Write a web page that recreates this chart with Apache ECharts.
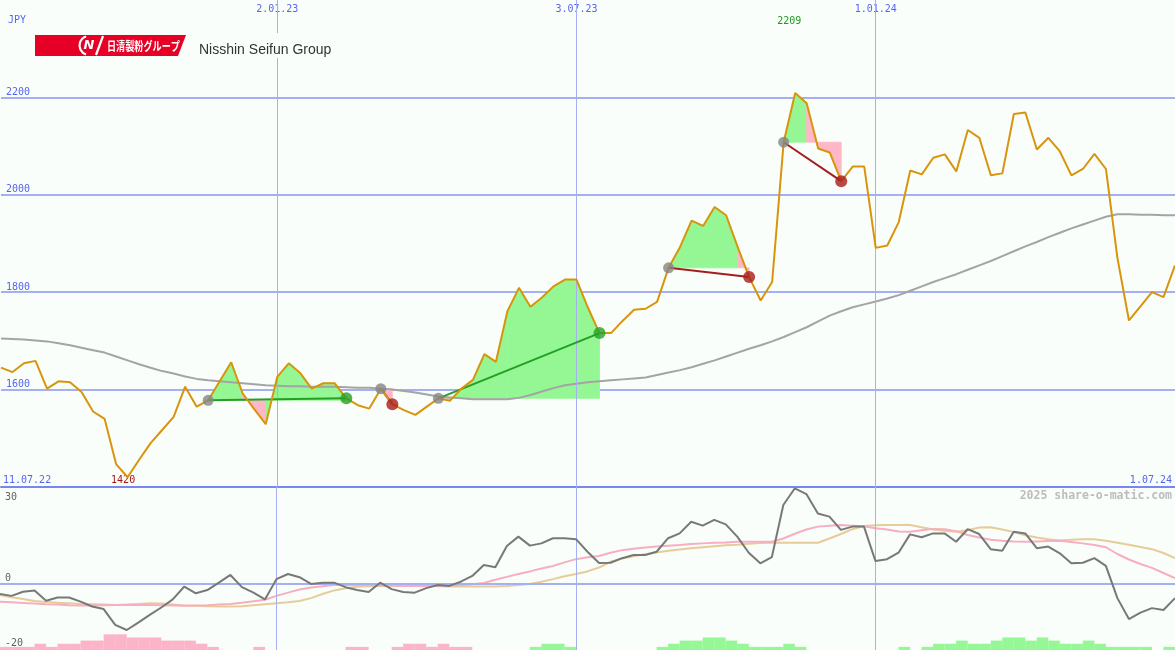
<!DOCTYPE html>
<html><head><meta charset="utf-8">
<script src="https://cdn.jsdelivr.net/npm/echarts@6/dist/echarts.min.js"></script>
<style>html,body{margin:0;padding:0;background:#fafefa}#c{width:1175px;height:650px}</style>
</head><body><div id="c"></div>
<script>
// ---- data (weekly, index 0 .. 102) ----
const price = [1645,1636,1654,1659,1602,1617,1615,1595,1555,1540,
  1447,1420,1456,1490,1517,1544,1606,1565,1578,1617,
  1656,1592,1560,1529,1626,1654,1634,1602,1613,1613,
  1582,1568,1561,1602,1570,1558,1548,1565,1582,1577,
  1602,1620,1673,1657,1761,1809,1770,1789,1812,1826,
  1826,1768,1716,1716,1741,1764,1766,1780,1850,1893,
  1947,1936,1975,1958,1893,1831,1783,1821,2108,2209,
  2188,2095,2087,2028,2058,2058,1891,1896,1944,2050,
  2042,2076,2083,2048,2133,2117,2040,2044,2166,2169,
  2093,2117,2089,2040,2053,2084,2053,1870,1742,1771,
  1800,1790,1855];
const movingAvg = [1705,1704,1703,1701,1699,1695,1691,1686,1681,1676,
  1668,1660,1652,1645,1638,1633,1627,1622,1619,1617,
  1615,1613,1611,1609,1608,1607,1607,1606,1606,1606,
  1605,1604,1604,1602,1600,1597,1594,1590,1586,1584,
  1582,1580,1580,1580,1580,1583,1589,1596,1603,1609,
  1612,1615,1617,1619,1621,1623,1625,1630,1635,1640,
  1646,1653,1660,1668,1676,1684,1691,1699,1708,1718,
  1728,1740,1752,1761,1769,1775,1781,1787,1794,1803,
  1812,1821,1829,1837,1846,1855,1864,1874,1884,1894,
  1903,1913,1922,1931,1939,1947,1955,1960,1960,1959,
  1959,1958,1958];
const momentum = [-3.2,-3.8,-2.5,-2.1,-5.3,-4.3,-4.3,-5.6,-7.1,-7.9,
  -12.8,-14.4,-12.1,-9.7,-7.4,-4.9,-0.9,-3.0,-2.0,0.3,
  2.7,-1.1,-2.8,-4.9,1.4,3.0,2.0,-0.1,0.3,0.3,
  -1.1,-2.0,-2.6,0.3,-1.7,-2.6,-2.8,-1.4,-0.4,-0.7,
  0.6,2.4,5.8,5.1,11.7,14.6,11.8,12.5,14.1,14.1,
  13.8,9.9,6.4,6.5,7.9,8.9,8.9,9.9,14.1,15.6,
  19.2,18.0,19.8,18.4,14.6,9.6,6.3,8.2,24.4,29.6,
  27.8,21.8,20.8,16.7,17.7,17.7,7.0,7.6,9.6,15.3,
  14.4,15.6,15.6,13.0,16.9,15.4,10.7,10.2,16.1,15.6,
  11.0,11.5,9.4,6.3,6.5,7.9,5.5,-4.5,-11.0,-9.0,
  -7.6,-8.2,-4.5];
const signalFast = [-5.6,-5.8,-6.0,-6.2,-6.4,-6.5,-6.7,-6.8,-6.8,-6.7,
  -6.6,-6.6,-6.6,-6.6,-6.7,-6.8,-6.9,-6.8,-6.7,-6.5,
  -6.3,-5.9,-5.5,-5.0,-3.8,-2.8,-1.8,-1.2,-0.8,-0.4,
  -0.4,-0.4,-0.4,-0.5,-0.6,-0.7,-0.7,-0.7,-0.7,-0.6,
  -0.4,-0.2,0.2,1.2,2.1,3.0,3.8,4.7,5.5,6.6,
  7.6,8.2,8.6,9.6,10.4,10.8,11.2,11.5,11.8,12.0,
  12.3,12.5,12.7,12.8,13.0,13.0,13.0,13.0,14.0,15.5,
  16.8,17.7,18.0,18.2,18.0,17.8,17.2,16.8,16.2,16.1,
  16.6,17.0,16.9,16.3,15.1,14.3,13.6,13.3,13.1,13.0,
  13.1,13.2,13.3,12.9,12.5,12.0,11.3,9.2,7.5,6.1,
  4.9,3.3,1.7];
const signalSlow = [-3.5,-4.2,-4.8,-5.4,-5.7,-5.9,-6.1,-6.3,-6.4,-6.5,
  -6.6,-6.5,-6.3,-6.1,-6.2,-6.5,-6.8,-6.9,-7.0,-7.1,
  -7.1,-7.0,-6.7,-6.4,-6.1,-5.8,-5.4,-4.5,-3.2,-2.1,
  -1.4,-1.0,-0.8,-0.7,-0.7,-0.7,-0.7,-0.7,-0.8,-0.9,
  -0.9,-0.9,-0.9,-0.9,-0.7,-0.4,-0.1,0.6,1.4,2.3,
  3.0,3.8,5.0,6.8,7.8,8.5,9.1,9.7,10.2,10.6,
  11.0,11.3,11.6,11.9,12.1,12.4,12.6,12.7,12.7,12.7,
  12.7,12.7,14.0,15.4,16.9,17.9,18.1,18.2,18.2,18.2,
  17.5,16.8,16.4,16.1,16.6,17.4,17.5,16.8,16.0,15.0,
  14.3,13.8,13.4,13.6,13.8,13.8,13.3,12.7,12.1,11.4,
  10.7,9.5,7.9];
const histogram = [-1,-1,-1,-1,-2,-1,-2,-2,-3,-3,
  -5,-5,-4,-4,-4,-3,-3,-3,-2,-1,
  0,0,0,-1,0,0,0,0,0,0,
  0,-1,-1,0,0,-1,-2,-2,-1,-2,
  -1,-1,0,0,0,0,0,1,2,2,
  1,0,0,0,0,0,0,0,1,2,
  3,3,4,4,3,2,1,1,1,2,
  1,0,0,0,0,0,0,0,0,1,
  0,1,2,2,3,2,2,3,4,4,
  3,4,3,2,2,3,2,1,1,1,
  1,0,1];
// trades: [entry index, exit index]
const trades = [[18,30],[33,34],[38,52],[58,65],[68,73]];
const dateTickIdx = [24,50,76];
const dateTickLabels = ['2.01.23','3.07.23','1.01.24'];
const edgeIdx = [0,102];
const edgeLabels = ['11.07.22','1.07.24'];
const oscTickValues = [-20,0,30];
const currency = 'JPY';
const companyName = 'Nisshin Seifun Group';
const logoText = '日清製粉グループ';
const watermark = '2025 share-o-matic.com';

// ---- derived ----
const N = price.length;
const hiIdx = price.indexOf(Math.max(...price));
const loIdx = price.indexOf(Math.min(...price));
const BG = '#fafefa';
const GRID = '#a4b0f2';
const BLUE = '#5566ee';
const GREENF = '#94f794';
const PINKF = '#ffb6c6';
const MONO = '"DejaVu Sans Mono", monospace';

const fillData = [];
trades.forEach(([a,b]) => {
  const e = price[a];
  for (let i = a; i < b; i++) fillData.push([i, e, price[i], price[i+1], price[i+1] >= e ? 1 : 0]);
});

const tradeLines = trades.map(([a,b]) => ({
  type:'line', xAxisIndex:0, yAxisIndex:0, z:6, silent:true, showSymbol:false,
  data:[[a, price[a]],[b, price[b]]],
  lineStyle:{color: price[b] >= price[a] ? '#23a023' : '#a51e1e', width:2}
}));

const xBase = {type:'value', min:0, max:N-1, axisLine:{show:false}, axisTick:{show:false},
  splitLine:{show:false}, axisLabel:{show:false}};
const lbl = (o) => Object.assign({show:true, inside:true, fontFamily:MONO, fontSize:10, color:BLUE}, o);

const chart = echarts.init(document.getElementById('c'), null, {renderer:'canvas'});
chart.setOption({
  backgroundColor: BG,
  animation:false,
  grid:[{left:0,right:0,top:0,height:487},{left:0,right:0,top:487,height:163}],
  xAxis:[
    Object.assign({}, xBase, {gridIndex:0, position:'bottom',
      axisLine:{show:true, onZero:false, lineStyle:{color:'#7687ee', width:2}}}),
    Object.assign({}, xBase, {gridIndex:0, position:'top',
      axisLabel: lbl({margin:3, customValues:dateTickIdx, backgroundColor:BG, padding:[1,2,3,2],
        formatter:v => dateTickLabels[dateTickIdx.indexOf(Math.round(v))]})}),
    Object.assign({}, xBase, {gridIndex:0, position:'top',
      axisLabel: lbl({margin:16, customValues:[hiIdx], color:'#1e9a1e', padding:[0,12,0,0],
        formatter:() => String(price[hiIdx])})}),
    Object.assign({}, xBase, {gridIndex:0, position:'bottom',
      axisLabel: lbl({margin:2, customValues:edgeIdx, alignMinLabel:'left', alignMaxLabel:'right', padding:[0,3,0,2],
        formatter:v => edgeLabels[edgeIdx.indexOf(Math.round(v))]})}),
    Object.assign({}, xBase, {gridIndex:0, position:'bottom',
      axisLabel: lbl({margin:2, customValues:[loIdx], color:'#a01818', padding:[0,9,0,0],
        formatter:() => String(price[loIdx])})}),
    Object.assign({}, xBase, {gridIndex:1, position:'bottom'})
  ],
  yAxis:[
    {type:'value', gridIndex:0, min:1400, max:2400, interval:200,
      axisLine:{show:false}, axisTick:{show:false},
      splitLine:{show:true, showMaxLine:false, showMinLine:false, lineStyle:{color:GRID, width:2}},
      axisLabel:{inside:true, verticalAlign:'bottom', margin:5, showMinLabel:false, showMaxLabel:false,
        color:BLUE, fontFamily:MONO, fontSize:10, formatter:v => String(v)}},
    {type:'value', gridIndex:1, min:-20.6, max:30,
      axisLine:{show:false}, axisTick:{show:false}, splitLine:{show:false},
      axisLabel:{inside:true, customValues:oscTickValues, verticalAlign:'bottom', verticalAlignMaxLabel:'top',
        margin:5, padding:[5,0,0,0], color:'#606060', fontFamily:MONO, fontSize:10, formatter:v => String(v)}},
    {type:'value', gridIndex:1, min:0, max:52, show:false}
  ],
  graphic:[
    {type:'text', z:100, left:8, top:15, style:{text:currency, fill:BLUE, font:'10px ' + MONO}},
    {type:'polygon', z:100, shape:{points:[[35,35],[186,35],[178,56],[35,56]]}, style:{fill:'#e60026'}},
    {type:'arc', z:101, shape:{cx:89, cy:45.5, r:9.5, startAngle:Math.PI*0.6, endAngle:Math.PI*1.4}, style:{stroke:'#fff', lineWidth:2.2, fill:null}},
    {type:'text', z:101, x:89, y:46, style:{text:'N', fill:'#fff', font:'italic bold 13px "DejaVu Sans"', align:'center', verticalAlign:'middle'}},
    {type:'line', z:101, shape:{x1:96, y1:55, x2:103, y2:36}, style:{stroke:'#fff', lineWidth:2.2}},
    {type:'text', z:101, x:107, y:46, scaleX:0.76, style:{text:logoText, fill:'#fff', font:'bold 12px "Noto Sans CJK JP"', verticalAlign:'middle'}},
    {type:'rect', z:99, shape:{x:195, y:33, width:140, height:25}, style:{fill:BG}},
    {type:'text', z:100, x:199, y:50, style:{text:companyName, fill:'#333', font:'14px "Liberation Sans"', verticalAlign:'middle'}},
    {type:'text', z:100, right:3, top:490, style:{text:watermark, fill:'#bcbcbc', font:'bold 11.5px ' + MONO}}
  ],
  series:[
    {type:'line', xAxisIndex:0, yAxisIndex:0, z:1, data:[], silent:true,
      markLine:{silent:true, symbol:'none', animation:false, label:{show:false},
        lineStyle:{color:GRID, width:1, type:'solid'}, data:dateTickIdx.map(v => ({xAxis:v}))}},
    {type:'custom', xAxisIndex:0, yAxisIndex:0, z:3, silent:true, data:fillData,
      encode:{x:0, y:1},
      renderItem:(params, api) => {
        const i = api.value(0), e = api.value(1);
        const pts = [api.coord([i, e]), api.coord([i, api.value(2)]), api.coord([i+1, api.value(3)]), api.coord([i+1, e])];
        const c = api.value(4) ? GREENF : PINKF;
        return {type:'polygon', shape:{points:pts}, style:{fill:c, stroke:c, lineWidth:0.8}};
      }},
    {type:'line', xAxisIndex:0, yAxisIndex:0, z:4, silent:true, showSymbol:false,
      data:movingAvg.map((v,i) => [i,v]), lineStyle:{color:'#a4a4a4', width:2}},
    ...tradeLines,
    {type:'line', xAxisIndex:0, yAxisIndex:0, z:7, silent:true, showSymbol:false,
      data:price.map((v,i) => [i,v]), lineStyle:{color:'#d8950c', width:2}},
    {type:'scatter', xAxisIndex:0, yAxisIndex:0, z:8, silent:true, symbolSize:11,
      data:trades.map(([a]) => [a, price[a]]), itemStyle:{color:'#848484'}},
    {type:'scatter', xAxisIndex:0, yAxisIndex:0, z:8, silent:true, symbolSize:12,
      data:trades.map(([a,b]) => ({value:[b, price[b]], itemStyle:{color: price[b] >= price[a] ? '#25a025' : '#a81c1c'}}))},
    // lower panel
    {type:'line', xAxisIndex:5, yAxisIndex:1, z:1, data:[], silent:true,
      markLine:{silent:true, symbol:'none', animation:false, label:{show:false},
        lineStyle:{color:GRID, width:1, type:'solid'},
        data:dateTickIdx.map(v => ({xAxis:v})).concat([{yAxis:0, lineStyle:{width:2}}])}},
    {type:'bar', xAxisIndex:5, yAxisIndex:2, z:2, silent:true, barWidth:11.6, barGap:'-100%',
      data:histogram.map((v,i) => v < 0 ? [i-0.5, -v] : null).filter(Boolean), itemStyle:{color:'#fbb4c8'}},
    {type:'bar', xAxisIndex:5, yAxisIndex:2, z:2, silent:true, barWidth:11.6, barGap:'-100%',
      data:histogram.map((v,i) => v > 0 ? [i-0.5, v] : null).filter(Boolean), itemStyle:{color:'#96f796'}},
    {type:'line', xAxisIndex:5, yAxisIndex:1, z:3, silent:true, showSymbol:false,
      data:signalSlow.map((v,i) => [i,v]), lineStyle:{color:'#e6cc98', width:2}},
    {type:'line', xAxisIndex:5, yAxisIndex:1, z:4, silent:true, showSymbol:false,
      data:signalFast.map((v,i) => [i,v]), lineStyle:{color:'#f7aec0', width:2}},
    {type:'line', xAxisIndex:5, yAxisIndex:1, z:5, silent:true, showSymbol:false,
      data:momentum.map((v,i) => [i,v]), lineStyle:{color:'#787878', width:2}}
  ]
});
</script>
</body></html>
